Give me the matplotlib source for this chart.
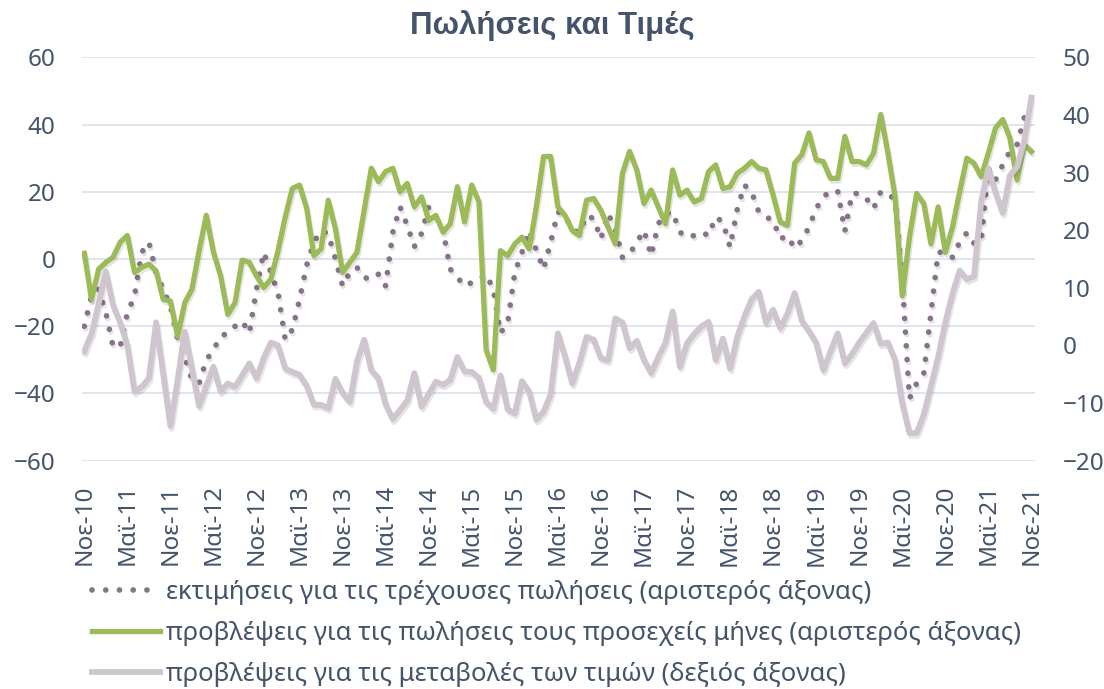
import matplotlib
matplotlib.use('Agg')
import matplotlib.pyplot as plt
import matplotlib.patheffects as pe
from matplotlib.lines import Line2D

plt.rcParams['font.family'] = ['Noto Sans', 'DejaVu Sans']

TEXT = '#44546a'
GRID = '#dde2ea'
C_NOW = '#86738a'
C_NEXT = '#9bbb59'
C_PRICE = '#cfc5cf'

# monthly, Nov 2010 .. Nov 2021
sales_now = [
    -20, -11, -9, -16, -26, -26, -16, -11, 2, 5,
    -4, -9, -14, -24, -29, -36, -37, -30, -27, -23,
    -22, -20, -18.5, -22, -9, 2, -4, -10, -24, -21,
    -12, -1.8, 5, 8.5, 7.5, 0, -8, -4, -2.5, -5.5,
    -6, -4.5, -8, 8, 15.5, 10, 3.7, 7.6, 15.5, 12.5,
    8.5, -3, -5.5, -8, -7, -6, -4.5, -9, -22, -19,
    -4, 2, 8.5, 2.7, -3, 5, 14, 13, 8.5, 8,
    13, 12, 6, 13.5, 9, 0.5, 1.5, 5, 8.5, 1,
    10.5, 13.5, 14, 8, 6.5, 7, 8, 7, 12.5, 11,
    3.5, 14.8, 22, 20, 14, 12.5, 11.5, 6, 6.9, 3.2,
    5.5, 9.5, 15, 18.5, 20.2, 20.2, 8.3, 19.5, 19.5, 18,
    15, 20, 19.5, 17.6, -6, -41.5, -37, -34, -16, 2,
    2, 0.5, 5, 7.8, 4.7, 5.2, 27, 23.5, 28, 32,
    34, 42, 41.5,
]

sales_next = [
    1.7, -12, -3, -1, 0.5, 5, 7, -4, -2.5, -1.5,
    -3.5, -12, -12.5, -23, -13, -9, 2.5, 13, 2, -5,
    -16.5, -13, -0.3, -1, -5, -8.5, -6, 2.5, 12.5, 21,
    22, 15, 1, 3, 17.5, 9, -4, -1, 2, 14.5,
    27, 23, 26, 27, 20, 22.5, 15.5, 18.5, 11.5, 13,
    8, 10.5, 21.5, 11, 22, 17, -27, -33, 2.5, 1,
    4.5, 6.5, 3, 15.5, 30.5, 30.5, 15.5, 13, 8.5, 7,
    17.5, 18, 14.5, 9.5, 4.5, 25.5, 32, 26.5, 16.5, 20.5,
    15.5, 10.5, 26.5, 19, 20.5, 17, 18, 26, 28, 21,
    21.5, 25.5, 27, 29, 27, 26.5, 19, 11, 10, 28.5,
    31, 37.5, 29.5, 29, 24, 24, 36.5, 29, 29, 28,
    31.5, 43, 31.5, 18.5, -11, 6.5, 19.5, 16.5, 4.5, 15.5,
    2, 9.5, 20, 30, 28.5, 24.5, 31.5, 39, 41.5, 36,
    23.5, 34, 32,
]

prices = [
    -1, 2, 7.3, 12.8, 7, 4, 0, -8, -7.2, -5.7,
    4, -5, -14, -6, 2.4, -4, -10.5, -7, -3.7, -8,
    -6.6, -7.2, -5.2, -3.1, -5.7, -2.2, 0.5, 0, -4, -4.6,
    -5.1, -7, -10.3, -10.3, -10.9, -5.8, -8.2, -9.8, -2.8, 1,
    -4.3, -5.7, -10.2, -12.8, -11.2, -9.6, -4.8, -10.6, -8.4, -6.3,
    -6.8, -6, -2, -4.5, -4.6, -5.6, -9.8, -11, -5.2, -11.1,
    -11.8, -6.2, -8, -12.9, -11.5, -8.5, 2.1, -1.9, -6.6, -3,
    1.5, 1, -2.2, -2.6, 4.7, 4, -0.5, 0.8, -2.5, -4.8,
    -2, 0.5, 5.9, -3.7, 0.4, 2, 3.3, 4.1, -2.5, 1.2,
    -4, 1.5, 5, 8, 9.3, 4, 6.2, 3, 5.5, 9.1,
    4.3, 2.5, 0.5, -4.3, -1, 2.1, -3.1, -1.5, 0.5, 2.2,
    3.9, 0.3, 0.5, -2.5, -10, -15.2, -15.2, -12, -7, -2,
    4, 9, 13, 11.5, 12, 25, 30.7, 26.5, 23, 29.5,
    31, 35.5, 43,
]

tick_labels = [
    'Νοε-10', 'Μαϊ-11', 'Νοε-11', 'Μαϊ-12', 'Νοε-12', 'Μαϊ-13', 'Νοε-13',
    'Μαϊ-14', 'Νοε-14', 'Μαϊ-15', 'Νοε-15', 'Μαϊ-16', 'Νοε-16', 'Μαϊ-17',
    'Νοε-17', 'Μαϊ-18', 'Νοε-18', 'Μαϊ-19', 'Νοε-19', 'Μαϊ-20', 'Νοε-20',
    'Μαϊ-21', 'Νοε-21',
]

labels = [
    'εκτιμήσεις για τις τρέχουσες πωλήσεις (αριστερός άξονας)',
    'προβλέψεις για τις πωλήσεις τους προσεχείς μήνες (αριστερός άξονας)',
    'προβλέψεις για τις μεταβολές των τιμών (δεξιός άξονας)',
]

x = list(range(len(sales_now)))
shadow = [pe.SimpleLineShadow(offset=(1, -2), shadow_color='black', alpha=0.1), pe.Normal()]
dots = (0, (0.01, 2.4))

fig = plt.figure(figsize=(11.04, 6.89), dpi=100)
ax = fig.add_axes([0.0743, 0.3313, 0.8632, 0.5855])

ax.plot(x, sales_now, color=C_NOW, lw=4.1, linestyle=dots,
        dash_capstyle='round', path_effects=shadow)
ax.plot(x, sales_next, color=C_NEXT, lw=3.8, path_effects=shadow)

ax.set_xlim(-0.32, 132.5)
ax.set_ylim(-60, 60)
ax.set_yticks(range(-60, 61, 20))
ax.set_xticks(x[::6])
ax.set_xticklabels(tick_labels, rotation=90)
ax.grid(axis='y', color=GRID, lw=1.3)
ax.set_axisbelow(True)

ax2 = ax.twinx()
ax2.plot(x, prices, color=C_PRICE, lw=4.2, path_effects=shadow)
ax2.set_ylim(-20, 50)
ax2.set_yticks(range(-20, 51, 10))

for a in (ax, ax2):
    for s in a.spines.values():
        s.set_visible(False)
ax.tick_params(axis='y', length=0, labelsize=17.5, colors=TEXT, pad=19)
ax.tick_params(axis='x', length=0, labelsize=17.5, colors=TEXT, pad=17)
ax2.tick_params(axis='y', length=0, labelsize=17.5, colors=TEXT, pad=20)

fig.text(0.5, 0.963, 'Πωλήσεις και Τιμές', ha='center', va='center',
         fontsize=22.5, fontweight='bold', color=TEXT,
         family=['Liberation Sans', 'DejaVu Sans'])

handles = [
    Line2D([], [], color=C_NOW, lw=4.1, linestyle=dots, dash_capstyle='round'),
    Line2D([], [], color=C_NEXT, lw=3.8),
    Line2D([], [], color=C_PRICE, lw=4.2),
]
fig.legend(handles, labels, loc='center left', bbox_to_anchor=(0.083, 0.081),
           frameon=False, fontsize=18.5, labelcolor=TEXT, handlelength=2.65,
           handletextpad=0.25, labelspacing=0.62, borderpad=0, borderaxespad=0)

fig.savefig('out.png', dpi=100)
